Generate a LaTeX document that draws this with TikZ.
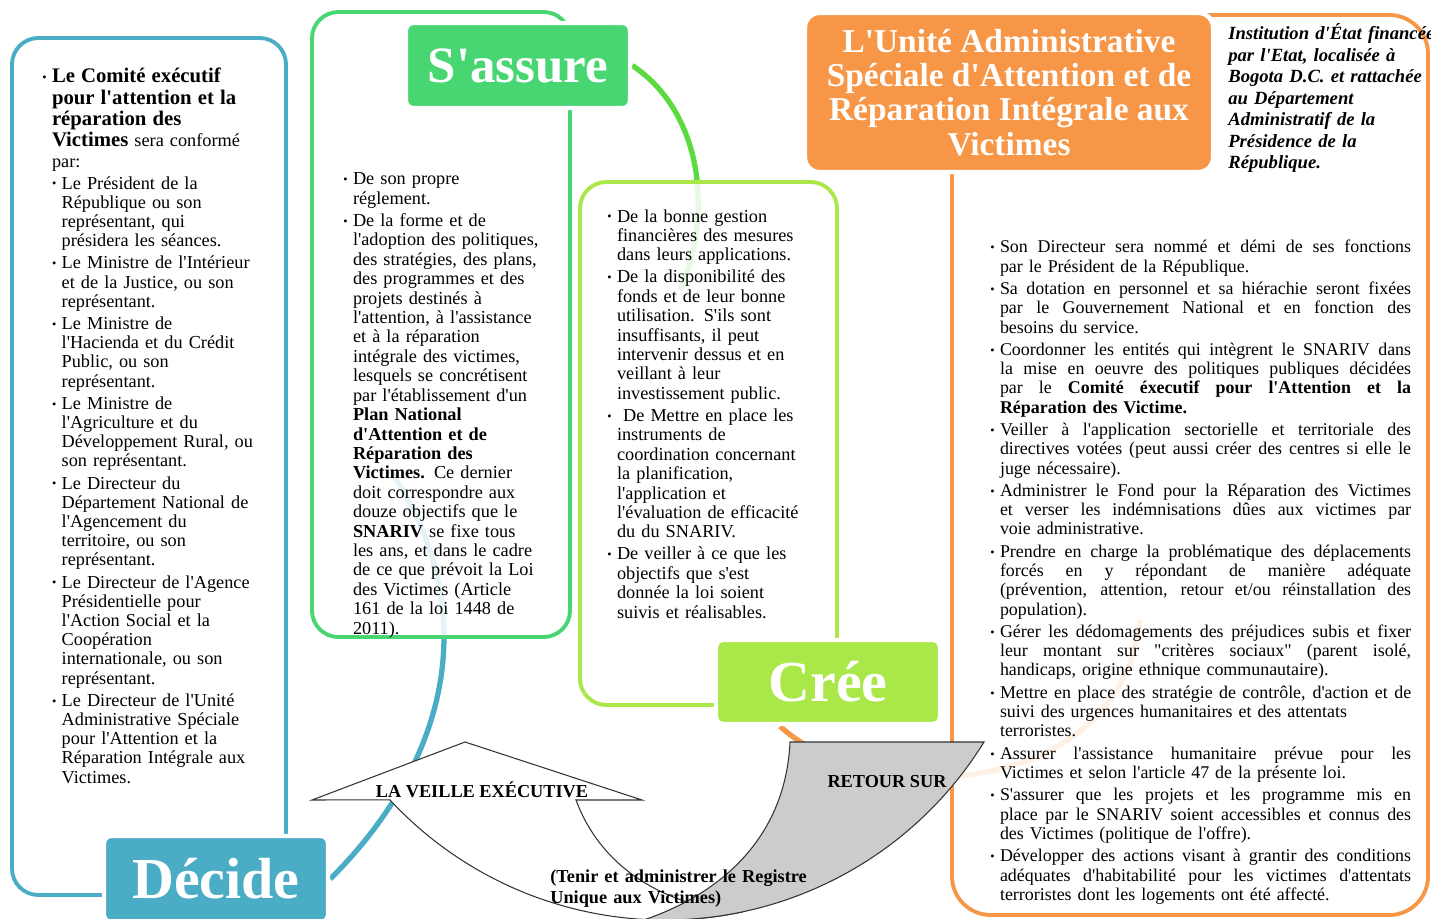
\documentclass[tikz,border=0pt]{standalone}
\usepackage{fontspec}
\setmainfont{Liberation Serif}[Ligatures=TeXOff]
\usetikzlibrary{calc}
\definecolor{decideblue}{RGB}{75,172,198}
\definecolor{assuregreen}{RGB}{72,214,115}
\definecolor{arcgreen}{RGB}{92,218,64}
\definecolor{creelime}{RGB}{170,232,74}
\definecolor{uniteorange}{RGB}{247,150,70}
\definecolor{retourgray}{RGB}{204,204,204}
\pgfdeclarelayer{arcs}
\pgfdeclarelayer{panels}
\pgfsetlayers{arcs,panels,main}
\newlength{\jw}\setlength{\jw}{234pt}
\newcommand{\bl}{\makebox[5.5pt][l]{\raisebox{.15ex}{\scriptsize\textbullet}}}
\newcommand{\ind}{\hspace*{5.5pt}}
\newcommand{\indd}{\hspace*{11pt}}
\newcommand{\jl}[1]{{\spaceskip=.25em plus 2em minus .06em\relax\makebox[\jw][s]{#1}}}
\tikzset{
  panel/.style={draw=#1, line width=2.2pt, rounded corners=15pt, fill=white, fill opacity=.86},
  titlebox/.style={fill=#1, draw=white, line width=2.5pt, rounded corners=4pt, text=white, inner sep=0pt},
  arcline/.style={draw=#1, line width=3pt},
  bodytext/.style={anchor=base west, inner sep=0pt, align=left, font=\fontsize{10.4}{11.05}\selectfont},
  uturn/.style={draw=black!80, line width=.6pt},
  arrowlabel/.style={inner sep=0pt, font=\fontsize{10.4}{12}\selectfont\bfseries}
}
\begin{document}
\begin{tikzpicture}[x=0.02cm, y=-0.02cm]
    \useasboundingbox (0,0) rectangle (1431,919);
    %title boxes
        \node[titlebox=decideblue, minimum width=4.48cm, minimum height=1.72cm, font=\fontsize{33}{33}\selectfont\bfseries] (decide) at (216,879) {Décide};
        \node[titlebox=assuregreen, minimum width=4.48cm, minimum height=1.7cm, font=\fontsize{29}{29}\selectfont\bfseries] (sassure) at (518,65.5) {S'assure};
        \node[titlebox=creelime, minimum width=4.48cm, minimum height=1.68cm, font=\fontsize{33}{33}\selectfont\bfseries] (cree) at (828,682) {Crée};
        \node[titlebox=uniteorange, rounded corners=8pt, minimum width=8.16cm, minimum height=3.18cm, align=center, font=\fontsize{19}{19.5}\selectfont\bfseries] (unite) at (1009,92.5) {L'Unité Administrative\\Spéciale d'Attention et de\\Réparation Intégrale aux\\Victimes};
    %ends of the arcs, behind the panels
        \coordinate (bluetip) at (390,470);
        \coordinate (greentip) at (680,290);
        \coordinate (orangetip) at (1140,620);
    \begin{pgfonlayer}{arcs}
        \draw[arcline=decideblue] (decide.east) .. controls (440,770) and (490,620) .. (bluetip);
        \draw[arcline=arcgreen] (sassure.east) .. controls (700,110) and (715,210) .. (greentip);
        \draw[arcline=uniteorange] ($(cree.south west)!.29!(cree.south east)$) .. controls (870,810) and (1120,800) .. (orangetip);
    \end{pgfonlayer}
    %panels
    \begin{pgfonlayer}{panels}
        \foreach \clr/\xa/\ya/\xb/\yb in {decideblue/12/38/286/895, assuregreen/312/12/570/637, creelime/580/182/837/705} {
            \draw[panel=\clr] (\xa,\ya) rectangle (\xb,\yb);
        }
        \draw[panel=uniteorange, rounded corners=22pt] (952,15) rectangle (1428,915);
    \end{pgfonlayer}
    %u-turn arrow at the bottom
        \coordinate (uc) at (665,545);
        \draw[uturn, fill=white] (312,800) -- (465,742) -- (642,800) -- (576,800)
            .. controls (600,865) and (660,905) .. (739.8,912.5)
            arc[start angle=78.5, end angle=137.2, radius=375] -- cycle;
        \draw[uturn, fill=retourgray] (790,742) -- (984,742)
            arc[start angle=31.7, end angle=93, radius=375]
            .. controls (730,890) and (786,830) .. (790,742) -- cycle;
        \node[arrowlabel] (veille) at (482,790) {LA VEILLE EXÉCUTIVE};
        \node[arrowlabel] (retour) at (887,782) {RETOUR SUR};
        \node[arrowlabel, anchor=base west, align=left, text width=200pt] (registre) at (550,882) {(Tenir et administrer le Registre\\Unique aux Victimes)};
    %texts of the panels
        \node[bodytext, text width=150pt, font=\fontsize{10.4}{10.95}\selectfont] (comite) at (42,83) {%
            {\fontsize{11.8}{12}\selectfont
            \bl\textbf{Le Comité exécutif}\\
            \ind\textbf{pour l'attention et la}\\
            \ind\textbf{réparation des}\\
            \ind\textbf{Victimes} {\fontsize{10.4}{12}\selectfont sera conformé}\\
            \ind{\fontsize{10.4}{12}\selectfont par:}\par}
            \vspace{1.5pt}
            \ind\bl Le Président de la\\
            \indd République ou son\\
            \indd représentant, qui\\
            \indd présidera les séances.\\[1.6pt]
            \ind\bl Le Ministre de l'Intérieur\\
            \indd et de la Justice, ou son\\
            \indd représentant.\\[1.6pt]
            \ind\bl Le Ministre de\\
            \indd l'Hacienda et du Crédit\\
            \indd Public, ou son\\
            \indd représentant.\\[1.6pt]
            \ind\bl Le Ministre de\\
            \indd l'Agriculture et du\\
            \indd Développement Rural, ou\\
            \indd son représentant.\\[1.6pt]
            \ind\bl Le Directeur du\\
            \indd Département National de\\
            \indd l'Agencement du\\
            \indd territoire, ou son\\
            \indd représentant.\\[1.6pt]
            \ind\bl Le Directeur de l'Agence\\
            \indd Présidentielle pour\\
            \indd l'Action Social et la\\
            \indd Coopération\\
            \indd internationale, ou son\\
            \indd représentant.\\[1.6pt]
            \ind\bl Le Directeur de l'Unité\\
            \indd Administrative Spéciale\\
            \indd pour l'Attention et la\\
            \indd Réparation Intégrale aux\\
            \indd Victimes.};
        \node[bodytext, text width=130pt] (reglement) at (343,185) {%
            \bl De son propre\\
            \ind réglement.\\[1.5pt]
            \bl De la forme et de\\
            \ind l'adoption des politiques,\\
            \ind des stratégies, des plans,\\
            \ind des programmes et des\\
            \ind projets destinés à\\
            \ind l'attention, à l'assistance\\
            \ind et à la réparation\\
            \ind intégrale des victimes,\\
            \ind lesquels se concrétisent\\
            \ind par l'établissement d'un\\
            \ind\textbf{Plan National}\\
            \ind\textbf{d'Attention et de}\\
            \ind\textbf{Réparation des}\\
            \ind\textbf{Victimes.} Ce dernier\\
            \ind doit correspondre aux\\
            \ind douze objectifs que le\\
            \ind\textbf{SNARIV} se fixe tous\\
            \ind les ans, et dans le cadre\\
            \ind de ce que prévoit la Loi\\
            \ind des Victimes (Article\\
            \ind 161 de la loi 1448 de\\
            \ind 2011).};
        \node[bodytext, text width=130pt] (gestion) at (607,222) {%
            \bl De la bonne gestion\\
            \ind financières des mesures\\
            \ind dans leurs applications.\\[1.5pt]
            \bl De la disponibilité des\\
            \ind fonds et de leur bonne\\
            \ind utilisation. S'ils sont\\
            \ind insuffisants, il peut\\
            \ind intervenir dessus et en\\
            \ind veillant à leur\\
            \ind investissement public.\\[1.5pt]
            \bl\ De Mettre en place les\\
            \ind instruments de\\
            \ind coordination concernant\\
            \ind la planification,\\
            \ind l'application et\\
            \ind l'évaluation de efficacité\\
            \ind du du SNARIV.\\[1.5pt]
            \bl De veiller à ce que les\\
            \ind objectifs que s'est\\
            \ind donnée la loi soient\\
            \ind suivis et réalisables.};
        \node[bodytext, font=\fontsize{10.2}{10.95}\selectfont, text width=250pt] (missions) at (990,253) {%
            \bl\jl{Son Directeur sera nommé et démi de ses fonctions}\\
            \ind par le Président de la République.\\[1.8pt]
            \bl\jl{Sa dotation en personnel et sa hiérachie seront fixées}\\
            \ind\jl{par le Gouvernement National et en fonction des}\\
            \ind besoins du service.\\[1.8pt]
            \bl\jl{Coordonner les entités qui intègrent le SNARIV dans}\\
            \ind\jl{la mise en oeuvre des politiques publiques décidées}\\
            \ind\jl{par le \textbf{Comité éxecutif pour l'Attention et la}}\\
            \ind\textbf{Réparation des Victime.}\\[1.8pt]
            \bl\jl{Veiller à l'application sectorielle et territoriale des}\\
            \ind\jl{directives votées (peut aussi créer des centres si elle le}\\
            \ind juge nécessaire).\\[1.8pt]
            \bl\jl{Administrer le Fond pour la Réparation des Victimes}\\
            \ind\jl{et verser les indémnisations dûes aux victimes par}\\
            \ind voie administrative.\\[1.8pt]
            \bl\jl{Prendre en charge la problématique des déplacements}\\
            \ind\jl{forcés en y répondant de manière adéquate}\\
            \ind\jl{(prévention, attention, retour et/ou réinstallation des}\\
            \ind population).\\[1.8pt]
            \bl\jl{Gérer les dédomagements des préjudices subis et fixer}\\
            \ind\jl{leur montant sur "critères sociaux" (parent isolé,}\\
            \ind handicaps, origine ethnique communautaire).\\[1.8pt]
            \bl\jl{Mettre en place des stratégie de contrôle, d'action et de}\\
            \ind suivi des urgences humanitaires et des attentats\\
            \ind terroristes.\\[1.8pt]
            \bl\jl{Assurer l'assistance humanitaire prévue pour les}\\
            \ind Victimes et selon l'article 47 de la présente loi.\\[1.8pt]
            \bl\jl{S'assurer que les projets et les programme mis en}\\
            \ind\jl{place par le SNARIV soient accessibles et connus des}\\
            \ind des Victimes (politique de l'offre).\\[1.8pt]
            \bl\jl{Développer des actions visant à grantir des conditions}\\
            \ind\jl{adéquates d'habitabilité pour les victimes d'attentats}\\
            \ind terroristes dont les logements ont été affecté.};
        \node[bodytext, text width=150pt, font=\fontsize{10.6}{12.2}\selectfont\bfseries\itshape] (institution) at (1228,40) {%
            Institution d'État financée\\
            par l'Etat, localisée à\\
            Bogota D.C. et rattachée\\
            au Département\\
            Administratif de la\\
            Présidence de la\\
            République.};
\end{tikzpicture}
\end{document}
